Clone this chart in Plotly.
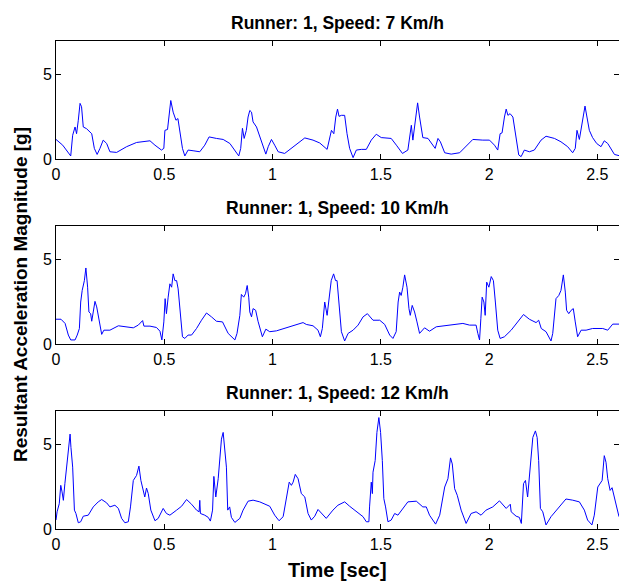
import plotly.graph_objects as go

# Resultant acceleration magnitude [g] versus time [s] for one runner at three speeds
titles = ["Runner: 1, Speed: 7 Km/h", "Runner: 1, Speed: 10 Km/h", "Runner: 1, Speed: 12 Km/h"]
x_ticks = [0, 0.5, 1, 1.5, 2, 2.5]
x_tick_text = ["0", "0.5", "1", "1.5", "2", "2.5"]
y_ticks = [0, 5]
y_tick_text = ["0", "5"]

t_7kmh = [
    0, 0.031, 0.068, 0.077, 0.088, 0.095, 0.103, 0.111, 0.118, 0.126,
    0.141, 0.165, 0.177, 0.19, 0.203, 0.218, 0.234, 0.249, 0.28, 0.326,
    0.372, 0.434, 0.457, 0.487, 0.498, 0.503, 0.515, 0.523, 0.53, 0.541,
    0.554, 0.563, 0.572, 0.584, 0.595, 0.61, 0.633, 0.664, 0.687, 0.707,
    0.741, 0.772, 0.803, 0.833, 0.844, 0.853, 0.861, 0.869, 0.879, 0.887,
    0.895, 0.903, 0.91, 0.926, 0.941, 0.957, 0.969, 0.98, 0.995, 1.01,
    1.026, 1.056, 1.095, 1.149, 1.187, 1.218, 1.252, 1.272, 1.283, 1.292,
    1.3, 1.307, 1.318, 1.333, 1.344, 1.356, 1.372, 1.387, 1.41, 1.433,
    1.456, 1.479, 1.502, 1.548, 1.572, 1.6, 1.625, 1.633, 1.641, 1.648,
    1.659, 1.67, 1.679, 1.694, 1.718, 1.74, 1.751, 1.764, 1.775, 1.795,
    1.825, 1.864, 1.894, 1.925, 1.971, 2.002, 2.025, 2.04, 2.051, 2.06,
    2.071, 2.079, 2.087, 2.097, 2.11, 2.125, 2.137, 2.148, 2.163, 2.186,
    2.209, 2.24, 2.263, 2.302, 2.332, 2.363, 2.386, 2.398, 2.406, 2.417,
    2.432, 2.443, 2.452, 2.463, 2.478, 2.497, 2.517, 2.532, 2.548, 2.563,
    2.579, 2.6,
]
a_7kmh = [
    1.16, 0.82, 0.18, 1.41, 1.9, 1.5, 2.3, 3.3, 3.1, 1.9,
    1.8, 1.5, 0.63, 0.27, 0.63, 1.12, 0.92, 0.43, 0.39, 0.73,
    0.98, 1.08, 0.82, 0.53, 0.63, 1.7, 1.75, 2.69, 3.47, 2.78,
    2.3, 2.4, 1.7, 0.63, 0.18, 0.53, 0.49, 0.43, 0.82, 1.31,
    1.22, 1.16, 0.92, 0.33, 0.18, 0.63, 1.82, 1.22, 1.7, 2.49,
    2.88, 2.78, 2.2, 1.9, 1.31, 0.63, 0.29, 0.73, 1.16, 0.82,
    0.43, 0.33, 0.73, 1.25, 1.12, 0.95, 0.57, 1.7, 1.5, 2.49,
    2.96, 2.53, 2.59, 2.59, 1.5, 0.63, 0.08, 0.53, 0.57, 0.57,
    1.12, 1.47, 1.27, 1.22, 0.82, 0.33, 0.53, 1.31, 2.0, 1.12,
    2.2, 3.33, 2.49, 1.27, 1.22, 0.82, 0.63, 1.22, 1.02, 0.37,
    0.29, 0.37, 0.73, 1.16, 1.12, 1.12, 0.82, 0.53, 1.5, 1.55,
    2.49, 2.96, 2.59, 2.69, 2.49, 1.22, 0.24, 0.14, 0.53, 0.43,
    0.53, 1.12, 1.35, 1.22, 1.02, 0.73, 0.37, 0.63, 1.7, 1.16,
    2.29, 3.14, 2.49, 1.7, 1.27, 0.92, 0.73, 1.08, 0.92, 0.57,
    0.27, 0.2,
]

t_10kmh = [
    0, 0.023, 0.042, 0.057, 0.068, 0.088, 0.098, 0.108, 0.114, 0.121,
    0.131, 0.138, 0.146, 0.152, 0.16, 0.165, 0.172, 0.18, 0.188, 0.195,
    0.203, 0.211, 0.221, 0.249, 0.288, 0.326, 0.357, 0.38, 0.4, 0.406,
    0.434, 0.464, 0.48, 0.489, 0.498, 0.504, 0.51, 0.518, 0.526, 0.534,
    0.541, 0.549, 0.557, 0.564, 0.572, 0.584, 0.595, 0.61, 0.626, 0.649,
    0.672, 0.695, 0.718, 0.741, 0.769, 0.795, 0.826, 0.836, 0.849, 0.856,
    0.867, 0.875, 0.883, 0.89, 0.895, 0.903, 0.91, 0.922, 0.933, 0.944,
    0.953, 0.969, 0.987, 1.018, 1.064, 1.11, 1.141, 1.156, 1.187, 1.21,
    1.221, 1.23, 1.241, 1.252, 1.264, 1.271, 1.282, 1.291, 1.298, 1.307,
    1.318, 1.333, 1.349, 1.372, 1.395, 1.418, 1.438, 1.464, 1.495, 1.518,
    1.541, 1.556, 1.571, 1.58, 1.587, 1.594, 1.602, 1.61, 1.621, 1.63,
    1.636, 1.645, 1.656, 1.667, 1.679, 1.702, 1.725, 1.756, 1.802, 1.848,
    1.879, 1.91, 1.94, 1.948, 1.956, 1.962, 1.968, 1.976, 1.982, 1.989,
    1.999, 2.01, 2.02, 2.029, 2.04, 2.051, 2.071, 2.102, 2.132, 2.159,
    2.186, 2.217, 2.229, 2.241, 2.263, 2.286, 2.294, 2.309, 2.322, 2.332,
    2.343, 2.352, 2.358, 2.368, 2.379, 2.389, 2.398, 2.409, 2.425, 2.448,
    2.478, 2.525, 2.548, 2.571, 2.6,
]
a_10kmh = [
    1.47, 1.47, 1.22, 0.53, 0.24, 0.24, 0.53, 0.92, 2.49, 3.18,
    3.76, 4.51, 3.37, 1.9, 1.8, 1.35, 1.9, 2.53, 2.2, 1.7,
    1.12, 0.57, 0.82, 0.82, 1.08, 1.02, 0.96, 1.12, 1.39, 1.06,
    1.06, 0.98, 0.76, 0.24, 1.31, 2.69, 1.8, 2.78, 3.57, 3.37,
    4.16, 3.76, 3.76, 3.27, 1.9, 0.43, 0.33, 0.53, 0.53, 0.92,
    1.41, 1.84, 1.61, 1.35, 1.31, 0.63, 0.24, 0.63, 1.7, 2.94,
    2.78, 2.98, 3.47, 2.78, 1.9, 1.61, 2.1, 2.0, 1.35, 0.92,
    0.43, 0.88, 0.73, 0.78, 0.96, 1.12, 1.27, 1.16, 1.08, 0.82,
    0.43, 0.92, 2.49, 1.7, 3.08, 3.76, 4.16, 3.76, 3.76, 2.49,
    0.73, 0.18, 0.63, 0.82, 1.12, 1.61, 1.8, 1.41, 1.41, 1.16,
    0.53, 0.33, 0.73, 2.49, 3.08, 2.88, 3.37, 4.1, 3.37, 2.1,
    1.7, 2.29, 1.9, 1.31, 0.63, 0.96, 0.76, 1.02, 1.08, 1.16,
    1.22, 1.12, 1.12, 0.63, 0.24, 1.5, 2.78, 2.49, 1.7, 3.67,
    3.37, 4.0, 3.76, 2.49, 0.82, 0.33, 0.43, 0.82, 1.31, 1.75,
    1.47, 1.27, 1.41, 0.92, 0.73, 0.18, 0.63, 2.69, 2.88, 3.18,
    4.1, 3.08, 2.0, 1.8, 2.0, 2.1, 1.31, 0.43, 0.82, 0.82,
    0.92, 0.92, 0.82, 1.18, 1.18,
]

t_12kmh = [
    0, 0.005, 0.015, 0.022, 0.028, 0.034, 0.041, 0.049, 0.057, 0.065,
    0.069, 0.077, 0.085, 0.092, 0.103, 0.114, 0.126, 0.149, 0.172, 0.195,
    0.211, 0.234, 0.249, 0.272, 0.288, 0.303, 0.318, 0.334, 0.344, 0.357,
    0.372, 0.383, 0.392, 0.403, 0.41, 0.418, 0.426, 0.438, 0.457, 0.472,
    0.495, 0.51, 0.526, 0.557, 0.58, 0.603, 0.626, 0.649, 0.661, 0.664,
    0.667, 0.687, 0.703, 0.713, 0.723, 0.729, 0.738, 0.749, 0.757, 0.764,
    0.772, 0.78, 0.787, 0.793, 0.802, 0.81, 0.826, 0.849, 0.864, 0.887,
    0.91, 0.941, 0.987, 1.01, 1.03, 1.049, 1.077, 1.087, 1.095, 1.105,
    1.118, 1.133, 1.149, 1.164, 1.179, 1.195, 1.21, 1.248, 1.279, 1.302,
    1.333, 1.356, 1.387, 1.418, 1.433, 1.445, 1.448, 1.456, 1.461, 1.464,
    1.474, 1.482, 1.491, 1.499, 1.507, 1.514, 1.522, 1.533, 1.548, 1.564,
    1.579, 1.602, 1.625, 1.664, 1.694, 1.71, 1.725, 1.753, 1.772, 1.795,
    1.81, 1.822, 1.83, 1.841, 1.853, 1.871, 1.894, 1.917, 1.94, 1.963,
    1.986, 2.017, 2.048, 2.079, 2.098, 2.102, 2.125, 2.14, 2.149, 2.159,
    2.168, 2.178, 2.189, 2.202, 2.214, 2.222, 2.229, 2.237, 2.248, 2.263,
    2.286, 2.317, 2.355, 2.386, 2.417, 2.44, 2.455, 2.475, 2.486, 2.502,
    2.522, 2.532, 2.54, 2.548, 2.559, 2.568, 2.578, 2.588, 2.6,
]
a_12kmh = [
    0.53, 1.02, 1.5, 2.59, 2.2, 1.7, 2.69, 3.76, 4.75, 5.63,
    4.84, 3.67, 1.12, 0.92, 0.37, 0.43, 0.76, 0.82, 1.31, 1.61,
    1.75, 1.55, 1.31, 1.41, 1.22, 0.63, 0.37, 0.43, 1.31, 2.88,
    3.18, 3.73, 2.88, 2.29, 1.9, 2.43, 2.1, 1.12, 0.49, 0.63,
    1.22, 0.92, 0.82, 1.12, 1.35, 1.75, 1.47, 1.12, 1.02, 1.7,
    0.92, 0.82, 0.69, 0.47, 1.12, 3.12, 1.9, 2.98, 4.45, 5.33,
    5.73, 4.55, 3.67, 1.12, 1.31, 0.69, 0.39, 0.63, 1.12, 1.65,
    1.71, 1.61, 1.35, 0.82, 0.49, 0.73, 2.78, 2.59, 2.78, 3.24,
    2.98, 2.1, 1.9, 0.92, 0.53, 0.76, 1.16, 0.63, 1.12, 1.41,
    1.61, 1.35, 1.02, 0.73, 0.43, 0.43, 1.31, 2.78, 2.1, 3.37,
    4.06, 5.73, 6.61, 5.73, 4.06, 1.8, 1.31, 0.43, 0.53, 0.92,
    0.82, 1.22, 1.61, 1.65, 1.31, 1.31, 0.82, 0.29, 0.82, 2.49,
    2.98, 4.22, 3.86, 2.39, 2.0, 1.12, 0.33, 0.92, 1.02, 0.82,
    1.12, 1.31, 1.67, 1.22, 1.47, 1.02, 0.76, 0.69, 0.33, 2.69,
    2.88, 1.9, 3.47, 5.43, 5.82, 5.43, 4.06, 1.22, 1.02, 0.24,
    0.73, 1.22, 1.78, 1.71, 1.61, 1.12, 0.53, 0.24, 0.82, 2.49,
    2.88, 4.35, 3.96, 2.98, 2.29, 2.45, 1.9, 1.22, 0.73,
]

series = [(t_7kmh, a_7kmh), (t_10kmh, a_10kmh), (t_12kmh, a_12kmh)]

# Vertical extent of each panel in paper coordinates (top to bottom)
domains = [[0.7582, 1.0], [0.3791, 0.6209], [0.0, 0.2418]]

FONT = "Liberation Sans, Arial, sans-serif"

fig = go.Figure()
for i, (t, a) in enumerate(series):
    suffix = "" if i == 0 else str(i + 1)
    fig.add_trace(go.Scatter(
        x=t, y=a, mode="lines",
        line=dict(color="#0000ff", width=1),
        xaxis="x" + suffix, yaxis="y" + suffix,
        showlegend=False, hoverinfo="skip",
    ))

axis_common = dict(
    showline=True, linecolor="black", linewidth=1, mirror="ticks",
    ticks="inside", ticklen=5, tickwidth=1, tickcolor="black",
    showgrid=False, zeroline=False,
    tickfont=dict(family=FONT, size=16, color="black"),
)

layout = dict(
    width=619, height=585,
    margin=dict(l=56, r=0, t=41, b=56),
    paper_bgcolor="white", plot_bgcolor="white",
    showlegend=False,
)
annotations = []
for i in range(3):
    suffix = "" if i == 0 else str(i + 1)
    layout["xaxis" + suffix] = dict(
        axis_common, domain=[0, 1], range=[0, 2.6],
        tickvals=x_ticks, ticktext=x_tick_text,
        anchor="y" + suffix, ticklabelstandoff=1,
    )
    layout["yaxis" + suffix] = dict(
        axis_common, domain=domains[i], range=[0, 7],
        tickvals=y_ticks, ticktext=y_tick_text,
        anchor="x" + suffix, ticklabelstandoff=0,
    )
    annotations.append(dict(
        text="<b>" + titles[i] + "</b>",
        xref="x" + suffix + " domain", yref="y" + suffix + " domain",
        x=0.5, y=1, xanchor="center", yanchor="middle", yshift=18,
        showarrow=False, font=dict(family=FONT, size=17.5, color="black"),
    ))

annotations.append(dict(
    text="<b>Resultant Acceleration Magnitude [g]</b>",
    xref="paper", yref="paper", x=0, y=0.4795, xshift=-36,
    xanchor="center", yanchor="middle", textangle=-90,
    showarrow=False, font=dict(family=FONT, size=19, color="black"),
))
annotations.append(dict(
    text="<b>Time [sec]</b>",
    xref="paper", yref="paper", x=0.5, y=0, yshift=-41,
    xanchor="center", yanchor="middle",
    showarrow=False, font=dict(family=FONT, size=20, color="black"),
))
layout["annotations"] = annotations

fig.update_layout(**layout)
fig.write_html("out.html")
